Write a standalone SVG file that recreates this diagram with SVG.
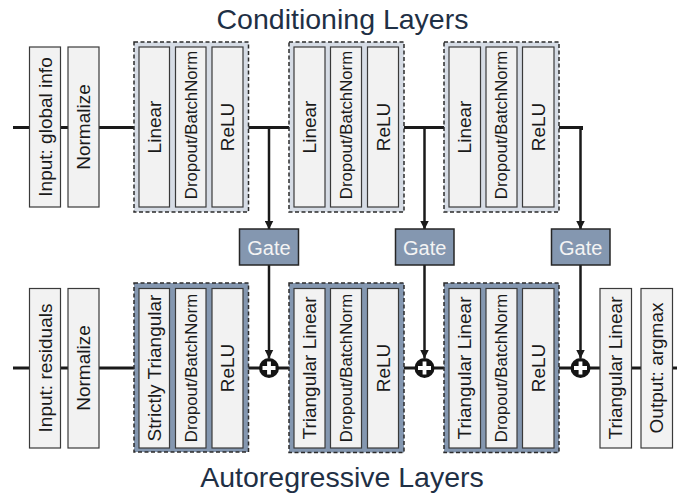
<svg xmlns="http://www.w3.org/2000/svg" width="683" height="500" viewBox="0 0 683 500">
<defs>
<style>
.bx{fill:#f2f2f2;stroke:#3a3a3a;stroke-width:1.2}
.gt{fill:#d6dce5;stroke:#2b2b2b;stroke-width:1.5;stroke-dasharray:4 2.5}
.gb{fill:#8497b0;stroke:#2b2b2b;stroke-width:1.5;stroke-dasharray:4 2.5}
.gate{fill:#8497b0;stroke:#262626;stroke-width:1.5}
.lb{font-family:"Liberation Sans",Arial,sans-serif;font-size:19px;fill:#1a1a1a;text-anchor:middle;dominant-baseline:central}
.lbs{font-family:"Liberation Sans",Arial,sans-serif;font-size:16.8px;fill:#1a1a1a;text-anchor:middle;dominant-baseline:central}
.gtx{font-family:"Liberation Sans",Arial,sans-serif;font-size:20px;fill:#f4f4f4;text-anchor:middle;dominant-baseline:central}
.ttl{font-family:"Liberation Sans",Arial,sans-serif;font-size:28.5px;fill:#1f3045;text-anchor:middle}
.ln{fill:none;stroke:#1a1a1a;stroke-width:3}
.ar{fill:none;stroke:#1a1a1a;stroke-width:2.5}
</style>
<marker id="ah" markerUnits="userSpaceOnUse" markerWidth="9" markerHeight="9" refX="8.5" refY="4.5" orient="auto">
<path d="M0,0 L9,4.5 L0,9 z" fill="#1a1a1a"/>
</marker>
</defs>

<text class="ttl" x="342.5" y="29">Conditioning Layers</text>
<text class="ttl" x="342" y="487">Autoregressive Layers</text>

<g id="connectors">
<path class="ln" d="M13,127.5 H30 M60,127.5 H68 M98,127.5 H135 M248,127.5 H290 M403,127.5 H445 M558,127.5 H581.5 V130"/>
<path class="ar" d="M269,127.5 V229" marker-end="url(#ah)"/>
<path class="ar" d="M424.5,127.5 V229" marker-end="url(#ah)"/>
<path class="ar" d="M580.5,126 V229" marker-end="url(#ah)"/>
<path class="ar" d="M269,265 V358" marker-end="url(#ah)"/>
<path class="ar" d="M424.5,265 V358" marker-end="url(#ah)"/>
<path class="ar" d="M580.5,265 V358" marker-end="url(#ah)"/>
<path class="ln" d="M13,368 H30 M60,368 H68 M98,368 H135 M248,368 H260 M278,368 H290 M403,368 H415 M434,368 H445 M558,368 H571 M590,368 H601 M631,368 H642 M672,368 H677"/>
</g>

<g id="cond_input"><rect class="bx" x="29.5" y="47" width="31" height="160"/><text class="lb" transform="translate(45,127) rotate(-90)">Input: global info</text></g>
<g id="cond_normalize"><rect class="bx" x="68" y="47" width="31" height="160"/><text class="lb" transform="translate(83.5,127) rotate(-90)">Normalize</text></g>

<g id="cond_block1">
<rect class="gt" x="134" y="42" width="114.5" height="170"/>
<rect class="bx" x="139" y="47" width="30.5" height="160"/><text class="lb" transform="translate(154.5,127) rotate(-90)">Linear</text>
<rect class="bx" x="175.5" y="47" width="30.5" height="160"/><text class="lbs" transform="translate(191,125) rotate(-90)">Dropout/BatchNorm</text>
<rect class="bx" x="212" y="47" width="31" height="160"/><text class="lb" transform="translate(227.5,127) rotate(-90)">ReLU</text>
</g>
<g id="cond_block2">
<rect class="gt" x="289" y="42" width="115" height="170"/>
<rect class="bx" x="294" y="47" width="31" height="160"/><text class="lb" transform="translate(309.5,127) rotate(-90)">Linear</text>
<rect class="bx" x="330.5" y="47" width="31" height="160"/><text class="lbs" transform="translate(346,125) rotate(-90)">Dropout/BatchNorm</text>
<rect class="bx" x="367.5" y="47" width="31" height="160"/><text class="lb" transform="translate(383,127) rotate(-90)">ReLU</text>
</g>
<g id="cond_block3">
<rect class="gt" x="444" y="42" width="115" height="170"/>
<rect class="bx" x="449" y="47" width="31.5" height="160"/><text class="lb" transform="translate(464.75,127) rotate(-90)">Linear</text>
<rect class="bx" x="486" y="47" width="31" height="160"/><text class="lbs" transform="translate(501.5,125) rotate(-90)">Dropout/BatchNorm</text>
<rect class="bx" x="522.5" y="47" width="31.5" height="160"/><text class="lb" transform="translate(538.25,127) rotate(-90)">ReLU</text>
</g>

<g id="gate1"><rect class="gate" x="239.5" y="229" width="59" height="36"/><text class="gtx" x="269" y="247.5">Gate</text></g>
<g id="gate2"><rect class="gate" x="395.5" y="229" width="58.5" height="36"/><text class="gtx" x="424.75" y="247.5">Gate</text></g>
<g id="gate3"><rect class="gate" x="551.5" y="229" width="58.5" height="36"/><text class="gtx" x="580.75" y="247.5">Gate</text></g>

<g id="ar_input"><rect class="bx" x="29.5" y="288.5" width="31" height="159.5"/><text class="lb" transform="translate(45,368) rotate(-90)">Input: residuals</text></g>
<g id="ar_normalize"><rect class="bx" x="68" y="288.5" width="31" height="159.5"/><text class="lb" transform="translate(83.5,368) rotate(-90)">Normalize</text></g>

<g id="ar_block1">
<rect class="gb" x="134" y="283" width="114.5" height="169"/>
<rect class="bx" x="139" y="288.5" width="30.5" height="159.5"/><text class="lb" transform="translate(154.5,368) rotate(-90)">Strictly Triangular</text>
<rect class="bx" x="175.5" y="288.5" width="30.5" height="159.5"/><text class="lbs" transform="translate(191,368) rotate(-90)">Dropout/BatchNorm</text>
<rect class="bx" x="212" y="288.5" width="31" height="159.5"/><text class="lb" transform="translate(227.5,368) rotate(-90)">ReLU</text>
</g>
<g id="ar_block2">
<rect class="gb" x="289" y="283" width="115" height="169.5"/>
<rect class="bx" x="294" y="288.5" width="31" height="159.5"/><text class="lb" transform="translate(309.5,368) rotate(-90)">Triangular Linear</text>
<rect class="bx" x="330.5" y="288.5" width="31" height="159.5"/><text class="lbs" transform="translate(346,368) rotate(-90)">Dropout/BatchNorm</text>
<rect class="bx" x="367.5" y="288.5" width="31" height="159.5"/><text class="lb" transform="translate(383,368) rotate(-90)">ReLU</text>
</g>
<g id="ar_block3">
<rect class="gb" x="444" y="283" width="115" height="169.5"/>
<rect class="bx" x="449" y="288.5" width="31.5" height="159.5"/><text class="lb" transform="translate(464.75,368) rotate(-90)">Triangular Linear</text>
<rect class="bx" x="486" y="288.5" width="31" height="159.5"/><text class="lbs" transform="translate(501.5,368) rotate(-90)">Dropout/BatchNorm</text>
<rect class="bx" x="522.5" y="288.5" width="31.5" height="159.5"/><text class="lb" transform="translate(538.25,368) rotate(-90)">ReLU</text>
</g>

<g id="sum1"><circle cx="269" cy="368" r="10" fill="#141414"/><path d="M262.5,368 H275.5 M269,361.5 V374.5" stroke="#fff" stroke-width="3.8"/></g>
<g id="sum2"><circle cx="424.5" cy="368" r="10" fill="#141414"/><path d="M418,368 H431 M424.5,361.5 V374.5" stroke="#fff" stroke-width="3.8"/></g>
<g id="sum3"><circle cx="580.5" cy="368" r="10" fill="#141414"/><path d="M574,368 H587 M580.5,361.5 V374.5" stroke="#fff" stroke-width="3.8"/></g>

<g id="ar_final_linear"><rect class="bx" x="600" y="288.5" width="31.5" height="159.5"/><text class="lb" transform="translate(615.75,368) rotate(-90)">Triangular Linear</text></g>
<g id="ar_output"><rect class="bx" x="641" y="288.5" width="31.5" height="159.5"/><text class="lb" transform="translate(656.75,368) rotate(-90)">Output: argmax</text></g>
</svg>
